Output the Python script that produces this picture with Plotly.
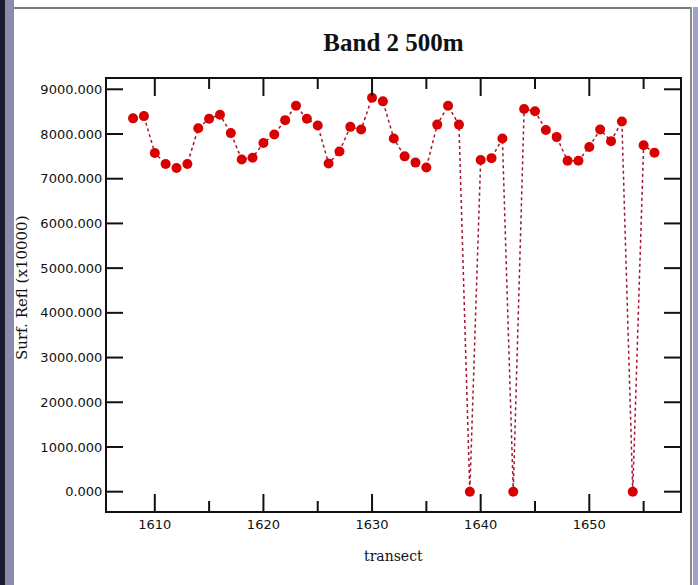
import plotly.graph_objects as go

# Transect positions and band-2 surface reflectance (scaled x10000)
transect = list(range(1608, 1657))
surf_refl = [
    8350, 8400, 7575, 7330, 7240, 7330, 8130, 8340, 8430, 8020,
    7430, 7470, 7800, 7990, 8310, 8630, 8340, 8190, 7340, 7610,
    8160, 8100, 8810, 8730, 7900, 7500, 7360, 7250, 8210, 8630,
    8210, 0, 7420, 7460, 7900, 0, 8560, 8510, 8090, 7930,
    7400, 7400, 7710, 8100, 7840, 8280, 0, 7750, 7580,
]

x_major = [1610, 1620, 1630, 1640, 1650]
x_minor = [1615, 1625, 1635, 1645, 1655]
y_ticks = [0, 1000, 2000, 3000, 4000, 5000, 6000, 7000, 8000, 9000]
x_range = [1605.6, 1658.35]
y_range = [-432, 9230]

W, H = 698, 585
L, R, T, B = 107, 680, 79, 511
ink = "#111"


def px(x):
    return (x - L) / (R - L)


def py(y):
    return (B - y) / (B - T)


fig = go.Figure()
fig.add_trace(go.Scatter(
    x=transect, y=surf_refl, mode="lines+markers",
    line=dict(color="#a01830", width=1.5, dash="dot"),
    marker=dict(color="#d80000", size=10, line=dict(width=0)),
    showlegend=False,
))

tick_font = dict(family="DejaVu Sans", size=13, color=ink)

fig.update_xaxes(
    range=x_range, tickmode="array", tickvals=x_major,
    ticks="", showline=True, linecolor=ink, linewidth=2, mirror=True,
    showgrid=False, zeroline=False, tickfont=tick_font,
)
fig.update_yaxes(
    range=y_range, tickmode="array", tickvals=y_ticks,
    ticktext=[f"{v:.3f}" for v in y_ticks],
    ticks="", showline=True, linecolor=ink, linewidth=2, mirror=True,
    showgrid=False, zeroline=False, tickfont=tick_font,
)

# Inward tick marks on all four sides of the plot frame
tick_line = dict(color=ink, width=2)
shapes = []
for vals, ln in [(x_major, 17), (x_minor, 10)]:
    h = ln / (B - T)
    for v in vals:
        shapes.append(dict(type="line", xref="x", yref="paper", layer="above",
                           x0=v, x1=v, y0=0, y1=h, line=tick_line))
        shapes.append(dict(type="line", xref="x", yref="paper", layer="above",
                           x0=v, x1=v, y0=1, y1=1 - h, line=tick_line))
w = 16 / (R - L)
for v in y_ticks:
    shapes.append(dict(type="line", xref="paper", yref="y", layer="above",
                       x0=0, x1=w, y0=v, y1=v, line=tick_line))
    shapes.append(dict(type="line", xref="paper", yref="y", layer="above",
                       x0=1, x1=1 - w, y0=v, y1=v, line=tick_line))

# Window frame around the chart
shapes += [
    dict(type="rect", xref="paper", yref="paper",
         x0=px(0), x1=px(5), y0=py(H), y1=py(0),
         fillcolor="#1c1c30", line=dict(width=0)),
    dict(type="rect", xref="paper", yref="paper",
         x0=px(5), x1=px(14), y0=py(H), y1=py(0),
         fillcolor="#8a8cae", line=dict(width=0)),
    dict(type="line", xref="paper", yref="paper",
         x0=px(14), x1=px(691), y0=py(8), y1=py(8),
         line=dict(color="#7a7a7a", width=2)),
    dict(type="line", xref="paper", yref="paper",
         x0=px(691), x1=px(691), y0=py(7), y1=py(H),
         line=dict(color="#8a8a8a", width=2)),
    dict(type="rect", xref="paper", yref="paper",
         x0=px(693), x1=px(698), y0=py(H), y1=py(7),
         fillcolor="#9fa2c4", line=dict(width=0)),
]

annotations = [
    dict(text="Surf. Refl (x10000)", xref="paper", yref="paper",
         x=px(22), y=py(288), textangle=-90, showarrow=False,
         xanchor="center", yanchor="middle",
         font=dict(family="DejaVu Serif", size=15, color=ink)),
    dict(text="transect", xref="paper", yref="paper",
         x=0.5, y=py(556), showarrow=False,
         xanchor="center", yanchor="middle",
         font=dict(family="DejaVu Serif", size=14, color=ink)),
]

fig.update_layout(
    width=W, height=H,
    margin=dict(l=L, r=W - R, t=T, b=H - B),
    paper_bgcolor="white", plot_bgcolor="white",
    title=dict(text="<b>Band 2 500m</b>", x=0.5, xref="paper",
               y=1 - 42.7 / H, yref="container", yanchor="middle",
               font=dict(family="Liberation Serif", size=25, color=ink)),
    shapes=shapes, annotations=annotations,
)

fig.write_html("out.html")
